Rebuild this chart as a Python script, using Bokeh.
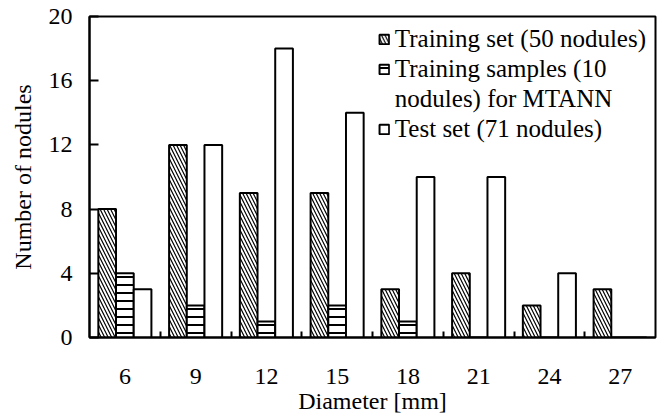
from bokeh.plotting import figure
from bokeh.models import ColumnDataSource, FixedTicker, Legend, LegendItem
from bokeh.transform import dodge
from bokeh.embed import file_html
from bokeh.resources import INLINE

diameters = ["6", "9", "12", "15", "18", "21", "24", "27"]
training_set = [8, 12, 9, 9, 3, 4, 2, 3]
training_samples = [4, 2, 1, 2, 1, 0, 0, 0]
test_set = [3, 12, 18, 14, 10, 10, 4, 0]

xpos = list(range(len(diameters)))
src = ColumnDataSource(dict(x=xpos, a=training_set, b=training_samples, c=test_set))

FONT = "Liberation Serif"
FS = "24px"
p = figure(width=658, height=416, output_backend="svg", toolbar_location=None,
           x_range=(-0.5, len(diameters) - 0.5), y_range=(0, 20),
           min_border_left=89, min_border_right=3, min_border_top=16, min_border_bottom=79)
p.xgrid.visible = False
p.ygrid.visible = False
p.outline_line_color = "black"
p.outline_line_width = 2
p.outline_line_alpha = 1

w = 0.25
r1 = p.vbar(x=dodge("x", -w, range=p.x_range), top="a", width=w, source=src,
            fill_color="white", line_color="black", line_width=2,
            hatch_pattern="left_diagonal_line", hatch_color="black", hatch_scale=7, hatch_weight=1.2)
r2 = p.vbar(x=dodge("x", 0, range=p.x_range), top="b", width=w, source=src,
            fill_color="white", line_color="black", line_width=2,
            hatch_pattern="horizontal_line", hatch_color="black", hatch_scale=8, hatch_weight=2)
r3 = p.vbar(x=dodge("x", w, range=p.x_range), top="c", width=w, source=src,
            fill_color="white", line_color="black", line_width=2)

p.xaxis.ticker = FixedTicker(ticks=xpos, minor_ticks=[i + 0.5 for i in xpos[:-1]])
p.xaxis.major_label_overrides = {i: d for i, d in zip(xpos, diameters)}
p.xaxis.major_tick_in = 0
p.xaxis.major_tick_out = 0
p.xaxis.minor_tick_in = 6
p.xaxis.minor_tick_out = 0
p.xaxis.minor_tick_line_width = 2
p.xaxis.major_label_standoff = 31
p.xaxis.axis_label = "Diameter [mm]"
p.xaxis.axis_label_standoff = 1

p.yaxis.ticker = FixedTicker(ticks=[0, 4, 8, 12, 16, 20])
p.yaxis.major_tick_in = 9
p.yaxis.major_tick_out = 0
p.yaxis.major_tick_line_width = 2
p.yaxis.minor_tick_line_color = None
p.yaxis.major_label_standoff = 17
p.yaxis.axis_label = "Number of nodules"
p.yaxis.axis_label_standoff = 10

for ax in (p.xaxis, p.yaxis):
    ax.axis_line_width = 2
    ax.axis_line_color = "black"
    ax.major_tick_line_color = "black"
    ax.major_label_text_font = FONT
    ax.major_label_text_font_size = FS
    ax.major_label_text_color = "black"
    ax.axis_label_text_font = FONT
    ax.axis_label_text_font_size = FS
    ax.axis_label_text_font_style = "normal"
    ax.axis_label_text_color = "black"

legend = Legend(items=[
    LegendItem(label="Training set (50 nodules)", renderers=[r1]),
    LegendItem(label="Training samples (10", renderers=[r2]),
    LegendItem(label="nodules) for MTANN", renderers=[]),
    LegendItem(label="Test set (71 nodules)", renderers=[r3]),
], location="top_right")
legend.label_text_font = FONT
legend.label_text_font_size = "25px"
legend.label_text_color = "black"
legend.label_height = 26
legend.border_line_color = None
legend.background_fill_alpha = 0
legend.glyph_width = 12
legend.glyph_height = 12
legend.label_standoff = 5
legend.spacing = 2
legend.padding = 0
legend.margin = 9
p.add_layout(legend)

open("out.html", "w").write(file_html(p, INLINE))
